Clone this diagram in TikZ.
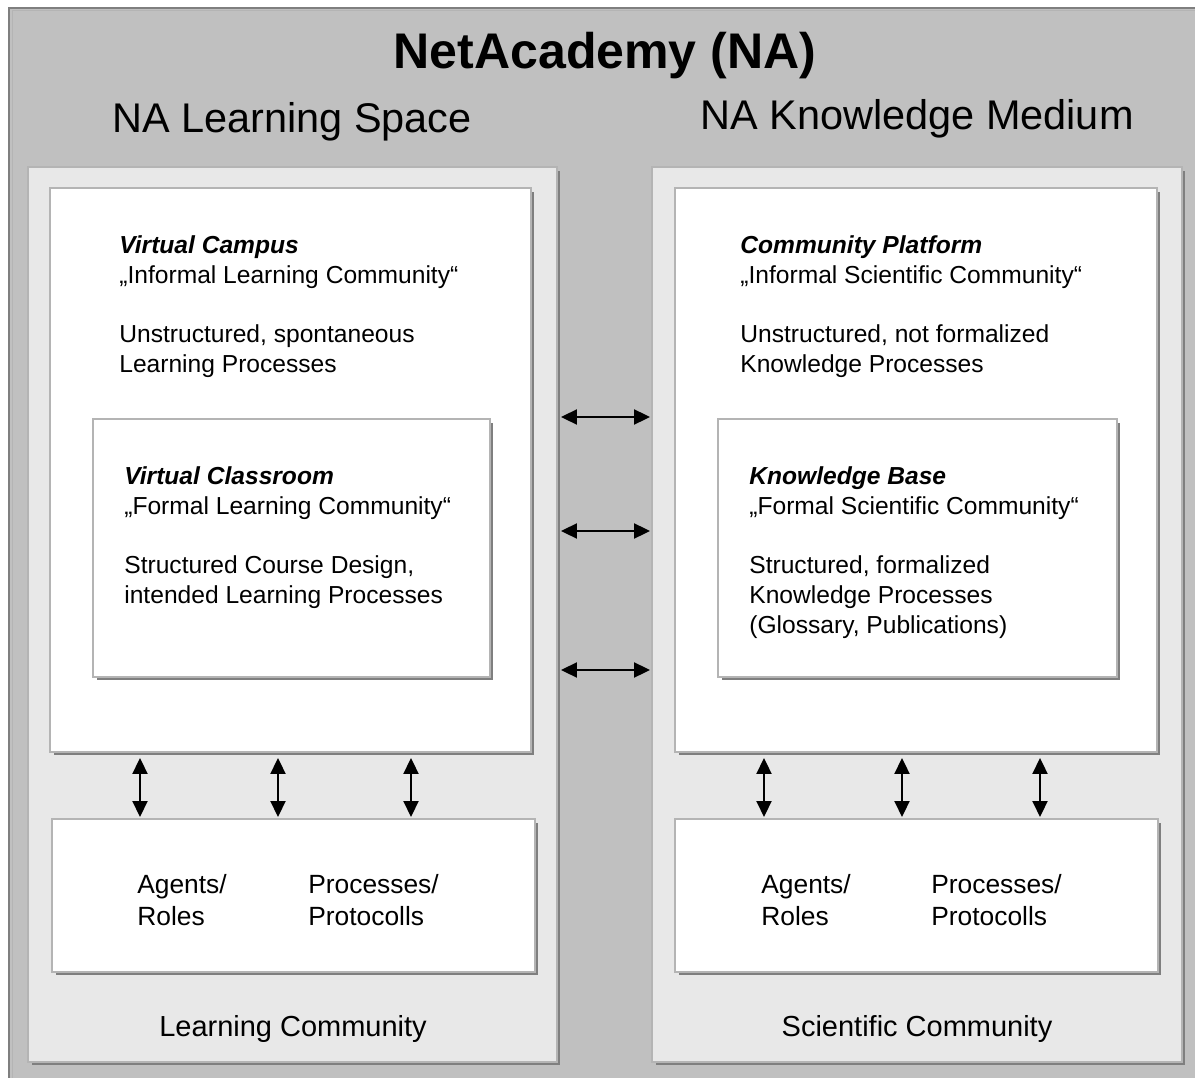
\documentclass[tikz,border=0pt]{standalone}
\usepackage{fontspec}
\setmainfont{Liberation Sans}
\usetikzlibrary{positioning,calc,arrows.meta,shadows}
\definecolor{frameGray}{HTML}{C0C0C0}
\definecolor{panelGray}{HTML}{E8E8E8}
\definecolor{edgeGray}{HTML}{B4B4B4}
\definecolor{shadeGray}{HTML}{7F7F7F}

\begin{document}
\begin{tikzpicture}[
    x=0.02cm, y=-0.02cm, % pixel units of the reference
    panel/.style={
        draw=edgeGray, line width=0.04cm, fill=panelGray,
        inner sep=0pt, anchor=center,
        drop shadow={shadow xshift=0.07cm, shadow yshift=-0.07cm,
                     fill=shadeGray, opacity=1}
    },
    wbox/.style={
        panel, fill=white
    },
    title/.style={
        font=\fontsize{28.5}{32}\selectfont\bfseries
    },
    subtitle/.style={
        font=\fontsize{23.6}{28}\selectfont
    },
    boxtext/.style={
        font=\fontsize{14}{17}\selectfont,
        align=left, anchor=north west, inner sep=0pt
    },
    roletext/.style={
        boxtext, font=\fontsize{15}{18}\selectfont
    },
    footer/.style={
        font=\fontsize{16.5}{20}\selectfont
    },
    link/.style={
        {Triangle[length=0.32cm,width=0.3cm]}-{Triangle[length=0.32cm,width=0.3cm]},
        line width=0.04cm, black
    }
    ]
    % Rahmen
    \useasboundingbox (0,0) rectangle (1195,1077);
    \fill[white] (0,0) rectangle (1195,1077);
    \fill[frameGray] (9,8) rectangle (1200,1082);
    \draw[shadeGray, line width=0.04cm] (9,1082) -- (9,8) -- (1200,8);
    \draw[edgeGray, line width=0.02cm] (12,1082) -- (12,11) -- (1200,11);

    % Titel
    \node[title] (na) at (605,56) {NetAcademy (NA)};
    \node[subtitle] (lsTitle) at (292,122) {NA Learning Space};
    \node[subtitle] (kmTitle) at (917,119) {NA Knowledge Medium};

    % Bereiche
    \node[panel, minimum width=10.58cm, minimum height=17.9cm] (lspace) at (292.5,614.5) {};
    \node[panel, minimum width=10.6cm, minimum height=17.9cm] (kspace) at (917,614.5) {};

    % Obere Boxen
    \node[wbox, minimum width=9.62cm, minimum height=11.28cm] (campus) at (290.5,470) {};
    \node[wbox, minimum width=9.64cm, minimum height=11.28cm] (platform) at (916,470) {};

    % Innere Boxen
    \node[wbox, minimum width=7.94cm, minimum height=5.16cm] (classroom) at (291.5,548) {};
    \node[wbox, minimum width=7.98cm, minimum height=5.16cm] (kbase) at (917.5,548) {};

    % Untere Boxen
    \node[wbox, minimum width=9.66cm, minimum height=3.06cm] (rolesL) at (293.5,895.5) {};
    \node[wbox, minimum width=9.66cm, minimum height=3.06cm] (rolesR) at (916.5,895.5) {};

    % Texte
    \node[boxtext] (campusTxt) at (119,235) {\textbf{\textit{Virtual Campus}}\\
        „Informal Learning Community“\\[17pt]
        Unstructured, spontaneous\\ Learning Processes};
    \node[boxtext] (classTxt) at (124,466) {\textbf{\textit{Virtual Classroom}}\\
        „Formal Learning Community“\\[17pt]
        Structured Course Design,\\ intended Learning Processes};
    \node[boxtext] (platformTxt) at (740,235) {\textbf{\textit{Community Platform}}\\
        „Informal Scientific Community“\\[17pt]
        Unstructured, not formalized\\ Knowledge Processes};
    \node[boxtext] (kbaseTxt) at (749,466) {\textbf{\textit{Knowledge Base}}\\
        „Formal Scientific Community“\\[17pt]
        Structured, formalized\\ Knowledge Processes\\ (Glossary, Publications)};

    \node[roletext] (agentsL) at (137,874) {Agents/\\ Roles};
    \node[roletext] (procL) at (308,874) {Processes/\\ Protocolls};
    \node[roletext] (agentsR) at (761,874) {Agents/\\ Roles};
    \node[roletext] (procR) at (931,874) {Processes/\\ Protocolls};

    \node[footer] (lcom) at (293,1029) {Learning Community};
    \node[footer] (scom) at (917,1029) {Scientific Community};

    % Pfeile
    \foreach \x in {140,278,411}
        \draw[link, shorten <=0.1cm, shorten >=0.02cm] (campus.south -| \x,0) -- (rolesL.north -| \x,0);
    \foreach \x in {764,902,1040}
        \draw[link, shorten <=0.1cm, shorten >=0.02cm] (platform.south -| \x,0) -- (rolesR.north -| \x,0);
    \foreach \y in {417,531,670}
        \draw[link, shorten <=0.06cm, shorten >=0.02cm] (lspace.east |- 0,\y) -- (kspace.west |- 0,\y);
\end{tikzpicture}
\end{document}
